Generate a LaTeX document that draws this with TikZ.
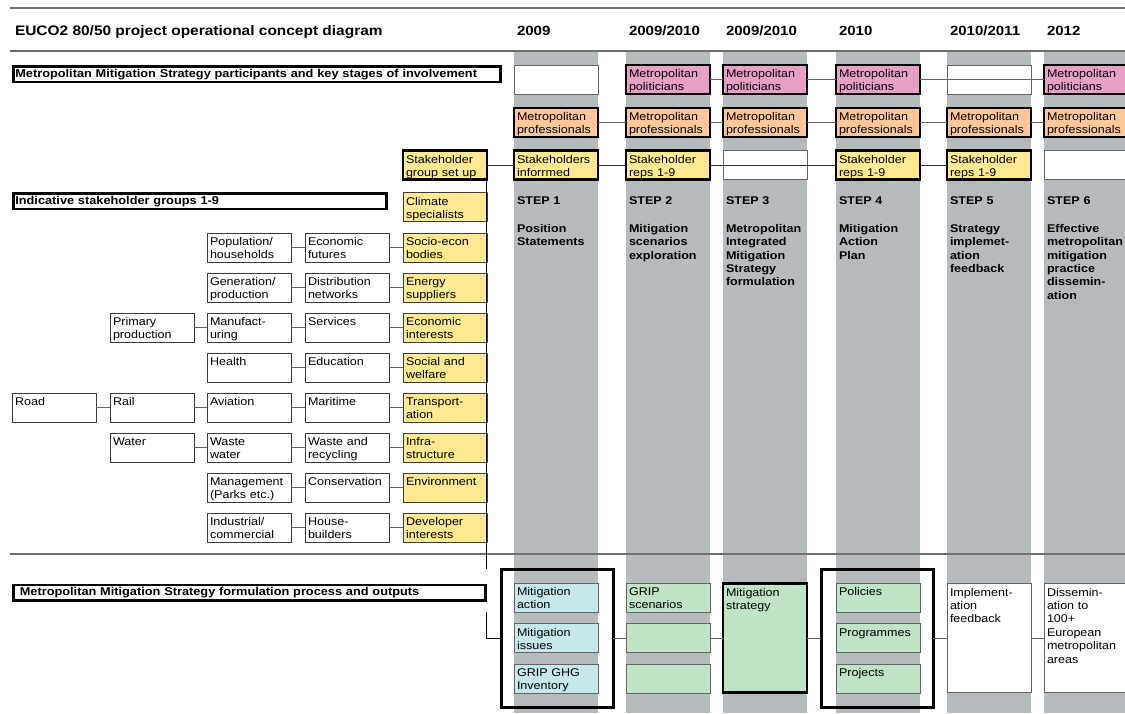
\documentclass[tikz,border=0pt]{standalone}
\usepackage{fontspec}
\setmainfont{Liberation Sans}[FakeStretch=1.12]
\usetikzlibrary{calc}

\definecolor{bandgray}{RGB}{182,187,190}
\definecolor{rulegray}{RGB}{112,112,112}
\definecolor{edgegray}{RGB}{60,60,60}
\definecolor{linkgray}{RGB}{100,100,100}
\definecolor{politpink}{RGB}{233,160,199}
\definecolor{profpeach}{RGB}{252,199,155}
\definecolor{stakeyellow}{RGB}{255,233,146}
\definecolor{inputcyan}{RGB}{198,232,235}
\definecolor{outgreen}{RGB}{193,227,199}

\newcommand{\cellfont}{\fontsize{11.2}{13.4}\selectfont}
\newcommand{\headfont}{\fontsize{11.4}{13.4}\selectfont\bfseries}
\newcommand{\stepfont}{\fontsize{11.2}{13.4}\selectfont\bfseries}
\newcommand{\titlefont}{\fontsize{13.4}{16}\selectfont\bfseries}
\newcommand{\bigtitlefont}{\fontsize{13.8}{16}\selectfont\bfseries}

\begin{document}
\begin{tikzpicture}[x=1pt,y=-1pt,
  every node/.style={inner sep=0pt,outer sep=0pt},
  cell/.style={draw=edgegray,line width=0.9pt,fill=white,anchor=north west,
    text width=78pt,align=left,inner xsep=3pt,inner ysep=2pt,
    text height=10.5pt,text depth=14.5pt,font=\cellfont},
  tall/.style={text depth=94.5pt},
  heavy/.style={draw=black,line width=2.6pt},
  polit/.style={cell,heavy,fill=politpink},
  prof/.style={cell,heavy,fill=profpeach},
  stake/.style={cell,heavy,fill=stakeyellow},
  group/.style={cell,fill=stakeyellow},
  sector/.style={cell},
  blank/.style={cell,draw=linkgray},
  input/.style={cell,fill=inputcyan,draw=linkgray},
  output/.style={cell,fill=outgreen,draw=linkgray},
  frame/.style={draw=black,line width=3pt,anchor=north west,
    minimum width=112pt,minimum height=138pt},
  section/.style={draw=black,line width=2.6pt,fill=white,anchor=north west,
    align=left,inner xsep=2pt,inner ysep=1.5pt,
    text height=9.5pt,text depth=3pt,font=\headfont},
  steptext/.style={anchor=north west,text width=84pt,align=left,
    text height=8.2pt,font=\stepfont},
  yeartext/.style={anchor=base west,font=\titlefont},
  band/.style={fill=bandgray,draw=none},
  rule/.style={draw=rulegray,line width=1.4pt},
  link/.style={draw=linkgray,line width=1pt},
  darklink/.style={draw=black!80,line width=1pt},
  trunk/.style={draw=black,line width=1pt}
]
\useasboundingbox (0,0) rectangle (1125,713);

% step columns
\foreach \cx in {514,626,723,836,947,1044}
  \fill[band] (\cx,52) rectangle ++(84,661);

% horizontal rules
\draw[rule] (10,8) -- (1125,8);
\draw[rule] (10,51) -- (1125,51);
\draw[rule] (10,554) -- (1125,554);

% heading line
\node[yeartext,font=\bigtitlefont] (title) at (15,35.5) {EUCO2 80/50 project operational concept diagram};
\node[yeartext] (yr1) at (517,35.5) {2009};
\node[yeartext] (yr2) at (629,35.5) {2009/2010};
\node[yeartext] (yr3) at (726,35.5) {2009/2010};
\node[yeartext] (yr4) at (839,35.5) {2010};
\node[yeartext] (yr5) at (950,35.5) {2010/2011};
\node[yeartext] (yr6) at (1047,35.5) {2012};

% section labels
\node[section,text width=483.4pt] (secA) at (13.3,66.3)
  {Metropolitan Mitigation Strategy participants and key stages of involvement};
\node[section,text width=369.4pt] (secB) at (13.3,193.3)
  {Indicative stakeholder groups 1-9};
\node[section,text width=468.4pt] (secC) at (13.3,584.8)
  {\hspace{4.5pt}Metropolitan Mitigation Strategy formulation process and outputs};

% participants: politicians
\node[blank] (pol1) at (514,65) {};
\node[polit] (pol2) at (626,65) {Metropolitan\\politicians};
\node[polit] (pol3) at (723,65) {Metropolitan\\politicians};
\node[polit] (pol4) at (836,65) {Metropolitan\\politicians};
\node[blank] (pol5) at (947,65) {};
\node[polit] (pol6) at (1044,65) {Metropolitan\\politicians};

% participants: professionals
\node[prof] (pro1) at (514,108) {Metropolitan\\professionals};
\node[prof] (pro2) at (626,108) {Metropolitan\\professionals};
\node[prof] (pro3) at (723,108) {Metropolitan\\professionals};
\node[prof] (pro4) at (836,108) {Metropolitan\\professionals};
\node[prof] (pro5) at (947,108) {Metropolitan\\professionals};
\node[prof] (pro6) at (1044,108) {Metropolitan\\professionals};

% participants: stakeholders
\node[stake] (setup) at (403,150.5) {Stakeholder\\group set up};
\node[stake] (stk1) at (514,150.5) {Stakeholders\\inforrmed};
\node[stake] (stk2) at (626,150.5) {Stakeholder\\reps 1-9};
\node[blank] (stk3) at (723,150.5) {};
\node[stake] (stk4) at (836,150.5) {Stakeholder\\reps 1-9};
\node[stake] (stk5) at (947,150.5) {Stakeholder\\reps 1-9};
\node[blank] (stk6) at (1044,150.5) {};

% step titles
\node[steptext] (st1) at (517,196) {STEP 1\\[14.6pt]Position\\Statements};
\node[steptext] (st2) at (629,196) {STEP 2\\[14.6pt]Mitigation\\scenarios\\exploration};
\node[steptext] (st3) at (726,196) {STEP 3\\[14.6pt]Metropolitan\\Integrated\\Mitigation\\Strategy\\formulation};
\node[steptext] (st4) at (839,196) {STEP 4\\[14.6pt]Mitigation\\Action\\Plan};
\node[steptext] (st5) at (950,196) {STEP 5\\[14.6pt]Strategy\\implemet-\\ation\\feedback};
\node[steptext] (st6) at (1047,196) {STEP 6\\[14.6pt]Effective\\metropolitan\\mitigation\\practice\\dissemin-\\ation};

% stakeholder groups
\node[group] (g1) at (403,192.5) {Climate\\specialists};
\node[group] (g2) at (403,233) {Socio-econ\\bodies};
\node[group] (g3) at (403,273) {Energy\\suppliers};
\node[group] (g4) at (403,313) {Economic\\interests};
\node[group] (g5) at (403,353) {Social and\\welfare};
\node[group] (g6) at (403,393) {Transport-\\ation};
\node[group] (g7) at (403,433) {Infra-\\structure};
\node[group] (g8) at (403,473) {Environment};
\node[group] (g9) at (403,513) {Developer\\interests};

% sectors feeding each group
\node[sector] (s2a) at (207,233) {Population/\\households};
\node[sector] (s2b) at (305,233) {Economic\\futures};
\node[sector] (s3a) at (207,273) {Generation/\\production};
\node[sector] (s3b) at (305,273) {Distribution\\networks};
\node[sector] (s4c) at (110,313) {Primary\\production};
\node[sector] (s4a) at (207,313) {Manufact-\\uring};
\node[sector] (s4b) at (305,313) {Services};
\node[sector] (s5a) at (207,353) {Health};
\node[sector] (s5b) at (305,353) {Education};
\node[sector] (s6d) at (12,393) {Road};
\node[sector] (s6c) at (110,393) {Rail};
\node[sector] (s6a) at (207,393) {Aviation};
\node[sector] (s6b) at (305,393) {Maritime};
\node[sector] (s7c) at (110,433) {Water};
\node[sector] (s7a) at (207,433) {Waste\\water};
\node[sector] (s7b) at (305,433) {Waste and\\recycling};
\node[sector] (s8a) at (207,473) {Management\\(Parks etc.)};
\node[sector] (s8b) at (305,473) {Conservation};
\node[sector] (s9a) at (207,513) {Industrial/\\commercial};
\node[sector] (s9b) at (305,513) {House-\\builders};

% process and outputs
\node[frame] (grp1) at (501,569) {};
\node[frame] (grp2) at (821,569) {};
\node[input] (in1) at (514,583) {Mitigation\\action};
\node[input] (in2) at (514,623.5) {Mitigation\\issues};
\node[input] (in3) at (514,664) {GRIP GHG\\Inventory};
\node[output] (sc1) at (626,583) {GRIP\\scenarios};
\node[output] (sc2) at (626,623.5) {};
\node[output] (sc3) at (626,664) {};
\node[output,tall,heavy] (strat) at (723,583.5) {Mitigation\\strategy};
\node[output] (pl1) at (836,583) {Policies};
\node[output] (pl2) at (836,623.5) {Programmes};
\node[output] (pl3) at (836,664) {Projects};
\node[blank,tall] (impl) at (947,583.5) {Implement-\\ation\\feedback};
\node[blank,tall] (diss) at (1044,583.5) {Dissemin-\\ation to\\100+\\European\\metropolitan\\areas};

% sector chains
\draw[link] (s2a.east) -- (s2b.west);
\draw[link] (s2b.east) -- (g2.west);
\draw[link] (s3a.east) -- (s3b.west);
\draw[link] (s3b.east) -- (g3.west);
\draw[link] (s4c.east) -- (s4a.west);
\draw[link] (s4a.east) -- (s4b.west);
\draw[link] (s4b.east) -- (g4.west);
\draw[link] (s5a.east) -- (s5b.west);
\draw[link] (s5b.east) -- (g5.west);
\draw[link] (s6d.east) -- (s6c.west);
\draw[link] (s6c.east) -- (s6a.west);
\draw[link] (s6a.east) -- (s6b.west);
\draw[link] (s6b.east) -- (g6.west);
\draw[link] (s7c.east) -- (s7a.west);
\draw[link] (s7a.east) -- (s7b.west);
\draw[link] (s7b.east) -- (g7.west);
\draw[link] (s8a.east) -- (s8b.west);
\draw[link] (s8b.east) -- (g8.west);
\draw[link] (s9a.east) -- (s9b.west);
\draw[link] (s9b.east) -- (g9.west);

% participant rows
\draw[link] (pol2.east) -- (pol3.west);
\draw[link] (pol3.east) -- (pol4.west);
\draw[link] (pol4.east) -- (pol6.west);
\draw[link] (pro1.east) -- (pro2.west);
\draw[link] (pro2.east) -- (pro3.west);
\draw[link] (pro3.east) -- (pro4.west);
\draw[link] (pro4.east) -- (pro5.west);
\draw[link] (pro5.east) -- (pro6.west);
\draw[darklink] (setup.east) -- (stk1.west);
\draw[darklink] (stk1.east) -- (stk2.west);
\draw[darklink] (stk2.east) -- (stk4.west);
\draw[darklink] (stk4.east) -- (stk5.west);

% stakeholder trunk down to the process
\coordinate (trunkA) at (486,569);
\coordinate (trunkB) at (486,612);
\draw[trunk] (setup.south east -| trunkA) -- (trunkA);
\draw[trunk] (trunkB) |- (grp1.west);

% process chain
\draw[link] (grp1.east) -- (sc2.west);
\draw[link] (sc2.east) -- (strat.west);
\draw[link] (strat.east) -- (grp2.west);
\draw[link] (grp2.east) -- (impl.west);
\draw[link] (impl.east) -- (diss.west);
\end{tikzpicture}
\end{document}
